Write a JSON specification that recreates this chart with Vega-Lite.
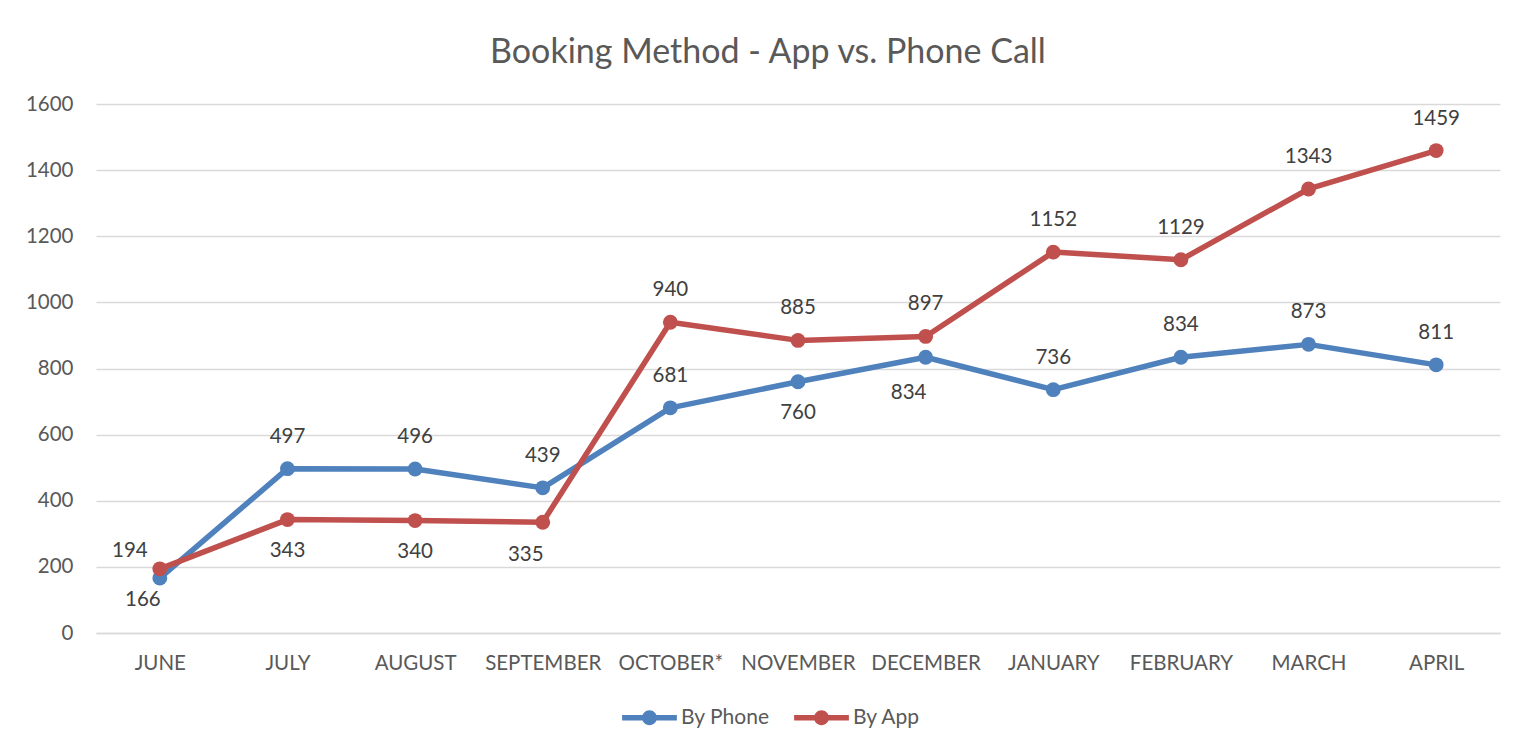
{
  "$schema": "https://vega.github.io/schema/vega-lite/v6.json",
  "width": 1404,
  "height": 529,
  "autosize": {"type": "none"},
  "padding": {"left": 96, "top": 104, "right": 22, "bottom": 119},
  "background": "white",
  "config": {
    "font": "Lato",
    "view": {"stroke": null},
    "axis": {"labelFont": "Lato", "labelColor": "#595959", "gridColor": "#d9d9d9", "gridWidth": 1.5, "domainColor": "#d9d9d9", "domainWidth": 1.5, "ticks": false, "title": null}
  },
  "title": {"text": "Booking Method - App vs. Phone Call", "fontSize": 34, "fontWeight": "normal", "color": "#595959", "font": "Lato", "anchor": "middle", "offset": 24, "dx": -30},
  "data": {
    "values": [
      {"month": "JUNE", "series": "By Phone", "value": 166},
      {"month": "JULY", "series": "By Phone", "value": 497},
      {"month": "AUGUST", "series": "By Phone", "value": 496},
      {"month": "SEPTEMBER", "series": "By Phone", "value": 439},
      {"month": "OCTOBER*", "series": "By Phone", "value": 681},
      {"month": "NOVEMBER", "series": "By Phone", "value": 760},
      {"month": "DECEMBER", "series": "By Phone", "value": 834},
      {"month": "JANUARY", "series": "By Phone", "value": 736},
      {"month": "FEBRUARY", "series": "By Phone", "value": 834},
      {"month": "MARCH", "series": "By Phone", "value": 873},
      {"month": "APRIL", "series": "By Phone", "value": 811},
      {"month": "JUNE", "series": "By App", "value": 194},
      {"month": "JULY", "series": "By App", "value": 343},
      {"month": "AUGUST", "series": "By App", "value": 340},
      {"month": "SEPTEMBER", "series": "By App", "value": 335},
      {"month": "OCTOBER*", "series": "By App", "value": 940},
      {"month": "NOVEMBER", "series": "By App", "value": 885},
      {"month": "DECEMBER", "series": "By App", "value": 897},
      {"month": "JANUARY", "series": "By App", "value": 1152},
      {"month": "FEBRUARY", "series": "By App", "value": 1129},
      {"month": "MARCH", "series": "By App", "value": 1343},
      {"month": "APRIL", "series": "By App", "value": 1459}
    ]
  },
  "encoding": {
    "x": {
      "field": "month", "type": "ordinal",
      "sort": ["JUNE","JULY","AUGUST","SEPTEMBER","OCTOBER*","NOVEMBER","DECEMBER","JANUARY","FEBRUARY","MARCH","APRIL"],
      "scale": {"type": "point", "padding": 0.5},
      "axis": {"labelAngle": 0, "labelFontSize": 20.5, "labelPadding": 20, "grid": false, "domain": true}
    },
    "y": {
      "field": "value", "type": "quantitative",
      "scale": {"domain": [0, 1600], "nice": false},
      "axis": {"values": [0,200,400,600,800,1000,1200,1400,1600], "format": "d", "labelFontSize": 20.5, "labelPadding": 23, "domain": false, "grid": true}
    }
  },
  "layer": [
    {
      "mark": {"type": "line", "strokeWidth": 5.5, "strokeJoin": "round", "point": {"filled": true, "size": 220}},
      "encoding": {
        "color": {
          "field": "series", "type": "nominal",
          "sort": ["By Phone", "By App"],
          "scale": {"domain": ["By Phone", "By App"], "range": ["#4f81bd", "#c0504d"]},
          "legend": {
            "orient": "none", "legendX": 526, "legendY": 586, "direction": "horizontal", "title": null,
            "labelFontSize": 21, "labelColor": "#595959", "labelFont": "Lato",
            "symbolType": "M-1,-0.1H1V0.1H-1Z M-0.27,0A0.27,0.27 0 1,1 0.27,0A0.27,0.27 0 1,1 -0.27,0Z",
            "symbolSize": 3000, "symbolStrokeWidth": 0, "columnPadding": 24, "labelOffset": 4,
            "encode": {"symbols": {"update": {"fill": {"scale": "color", "field": "value"}, "fillOpacity": {"value": 1}, "strokeWidth": {"value": 0}}}}
          }
        }
      }
    },
    {
      "transform": [{"filter": "!(datum.month == 'JUNE' || (datum.series == 'By Phone' && (datum.month == 'NOVEMBER' || datum.month == 'DECEMBER')) || (datum.series == 'By App' && (datum.month == 'JULY' || datum.month == 'AUGUST' || datum.month == 'SEPTEMBER')))"}],
      "mark": {"type": "text", "fontSize": 20.5, "color": "#404040", "dy": -32, "font": "Lato"},
      "encoding": {"text": {"field": "value", "type": "quantitative"}}
    },
    {
      "transform": [{"filter": "(datum.series == 'By Phone' && datum.month == 'NOVEMBER') || (datum.series == 'By App' && (datum.month == 'JULY' || datum.month == 'AUGUST'))"}],
      "mark": {"type": "text", "fontSize": 20.5, "color": "#404040", "dy": 31, "font": "Lato"},
      "encoding": {"text": {"field": "value", "type": "quantitative"}}
    },
    {
      "transform": [{"filter": "datum.series == 'By Phone' && datum.month == 'JUNE'"}],
      "mark": {"type": "text", "fontSize": 20.5, "color": "#404040", "dy": 22, "dx": -17, "font": "Lato"},
      "encoding": {"text": {"field": "value", "type": "quantitative"}}
    },
    {
      "transform": [{"filter": "datum.series == 'By Phone' && datum.month == 'DECEMBER'"}],
      "mark": {"type": "text", "fontSize": 20.5, "color": "#404040", "dy": 36, "dx": -17, "font": "Lato"},
      "encoding": {"text": {"field": "value", "type": "quantitative"}}
    },
    {
      "transform": [{"filter": "datum.series == 'By App' && datum.month == 'SEPTEMBER'"}],
      "mark": {"type": "text", "fontSize": 20.5, "color": "#404040", "dy": 33, "dx": -17, "font": "Lato"},
      "encoding": {"text": {"field": "value", "type": "quantitative"}}
    },
    {
      "transform": [{"filter": "datum.series == 'By App' && datum.month == 'JUNE'"}],
      "mark": {"type": "text", "fontSize": 20.5, "color": "#404040", "dy": -18, "dx": -30, "font": "Lato"},
      "encoding": {"text": {"field": "value", "type": "quantitative"}}
    }
  ]
}
